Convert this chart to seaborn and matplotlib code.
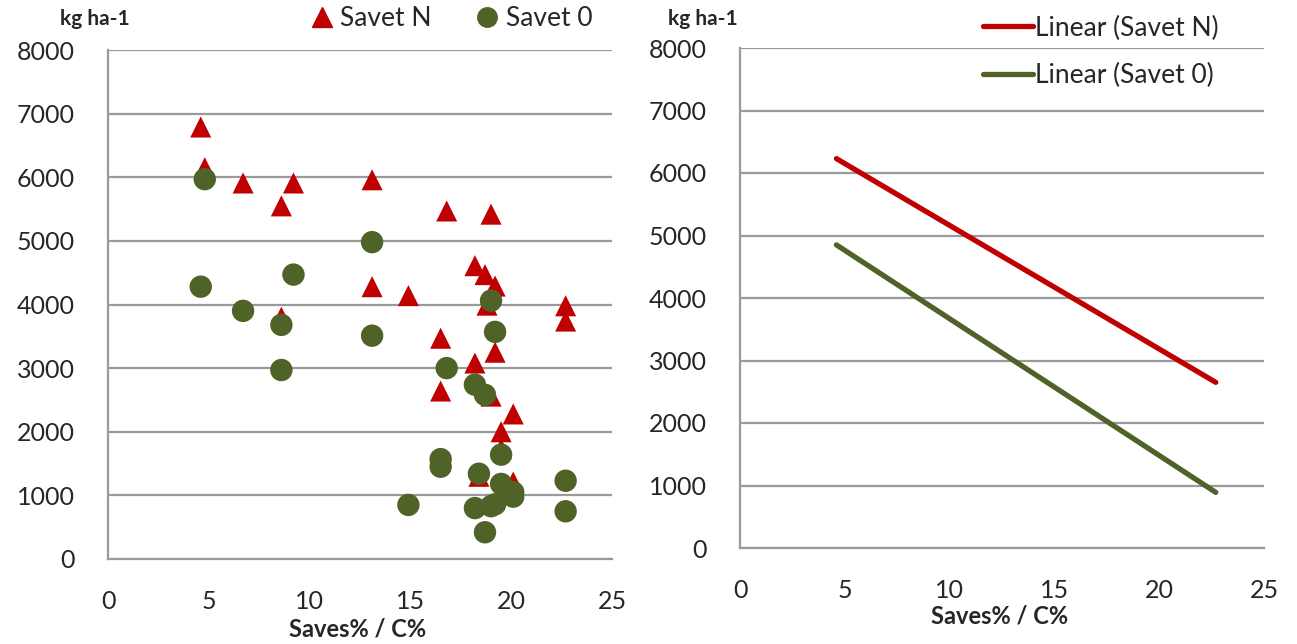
import matplotlib
matplotlib.use("Agg")
import matplotlib.pyplot as plt
import seaborn as sns
import pandas as pd
from matplotlib.lines import Line2D

# ---- data ----
n_x = [4.6, 4.8, 6.7, 8.6, 9.2, 13.1, 8.6, 13.1, 14.9, 16.8, 16.5, 16.5, 18.2, 18.7,
       19.0, 19.2, 18.8, 19.2, 18.2, 19.0, 20.1, 19.5, 19.5, 18.4, 20.1, 22.7, 22.7]
n_y = [6790, 6150, 5910, 5550, 5910, 5960, 3800, 4280, 4140, 5470, 3470, 2640, 4610, 4470,
       5420, 4290, 3990, 3250, 3080, 2560, 2280, 2000, 1730, 1300, 1210, 3980, 3740]
o_x = [4.6, 4.8, 6.7, 8.6, 8.6, 9.2, 13.1, 13.1, 14.9, 16.8, 16.5, 16.5, 18.2, 18.7,
       19.0, 19.2, 18.4, 18.2, 18.7, 19.0, 19.2, 19.5, 19.5, 20.1, 20.1, 22.7, 22.7]
o_y = [4280, 5970, 3900, 3680, 2970, 4470, 4980, 3510, 850, 3000, 1570, 1450, 2740, 2580,
       4060, 3570, 1340, 800, 420, 830, 860, 1640, 1180, 1050, 980, 1230, 750]

trend_x = [4.6, 22.7]
trend_n = [6230, 2650]
trend_o = [4850, 890]

y_ticks = [0, 1000, 2000, 3000, 4000, 5000, 6000, 7000, 8000]
x_ticks = [0, 5, 10, 15, 20, 25]

RED = "#C00000"
GREEN = "#4F6228"
GRID = "#9a9a9a"

sns.set_style("white")
plt.rcParams["font.family"] = ["Lato", "DejaVu Sans"]

W, H = 1297, 644
fig = plt.figure(figsize=(12.97, 6.44), dpi=100)
ax1 = fig.add_axes([108/W, 1-559/H, (612-108)/W, (559-50)/H])
ax2 = fig.add_axes([740/W, 1-548/H, (1264-740)/W, (548-48)/H])

df_n = pd.DataFrame({"x": n_x, "y": n_y})
df_o = pd.DataFrame({"x": o_x, "y": o_y})
sns.scatterplot(data=df_n, x="x", y="y", ax=ax1, marker="^", s=230, color=RED,
                edgecolor="none", zorder=3)
sns.scatterplot(data=df_o, x="x", y="y", ax=ax1, marker="o", s=260, color=GREEN,
                edgecolor="none", zorder=4)

df_t = pd.DataFrame({"x": trend_x, "n": trend_n, "o": trend_o})
sns.lineplot(data=df_t, x="x", y="n", ax=ax2, color=RED, linewidth=3.8, zorder=3)
sns.lineplot(data=df_t, x="x", y="o", ax=ax2, color=GREEN, linewidth=3.8, zorder=3)

for ax in (ax1, ax2):
    ax.set_xlim(0, 25)
    ax.set_ylim(0, 8000)
    ax.set_xticks(x_ticks)
    ax.set_yticks(y_ticks)
    ax.set_xticklabels([str(v) for v in x_ticks])
    ax.set_yticklabels([str(v) for v in y_ticks])
    ax.grid(axis="y", color=GRID, linewidth=1.6, zorder=0)
    ax.set_axisbelow(True)
    for side in ("top", "right"):
        ax.spines[side].set_visible(False)
    for side in ("left", "bottom"):
        ax.spines[side].set_color(GRID)
        ax.spines[side].set_linewidth(1.6)
    ax.tick_params(axis="x", direction="out", length=8, width=1.4, color=GRID,
                   labelsize=18, pad=14)
    ax.tick_params(axis="y", direction="out", length=8, width=1.4, color=GRID,
                   labelsize=18, pad=16)
    ax.set_ylabel("")
    ax.set_xlabel("")

fig.text(358/W, 1-629/H, "Saves% / C%", fontsize=17, fontweight="bold",
         ha="center", va="center")
fig.text(1000/W, 1-616/H, "Saves% / C%", fontsize=17, fontweight="bold",
         ha="center", va="center")

fig.text(95/W, 1-19/H, "kg ha-1", fontsize=15, fontweight="bold",
         ha="center", va="center")
fig.text(703/W, 1-19/H, "kg ha-1", fontsize=15, fontweight="bold",
         ha="center", va="center")

h1 = [Line2D([], [], marker="^", color=RED, linestyle="none", markersize=14),
      Line2D([], [], marker="o", color=GREEN, linestyle="none", markersize=14)]
fig.legend(h1, ["Savet N", "Savet 0"], loc="center", bbox_to_anchor=(448/W, 1-19/H),
           ncol=2, frameon=False, fontsize=19, handletextpad=0.0, columnspacing=1.4,
           borderaxespad=0, handlelength=1.4)

h2 = [Line2D([], [], color=RED, linewidth=3.8),
      Line2D([], [], color=GREEN, linewidth=3.8)]
fig.legend(h2, ["Linear (Savet N)", "Linear (Savet 0)"], loc="upper left",
           bbox_to_anchor=(972/W, 1-5/H), frameon=False, fontsize=19,
           handlelength=1.9, handletextpad=0.1, labelspacing=0.85, borderaxespad=0)

fig.savefig("out.png", dpi=100)
